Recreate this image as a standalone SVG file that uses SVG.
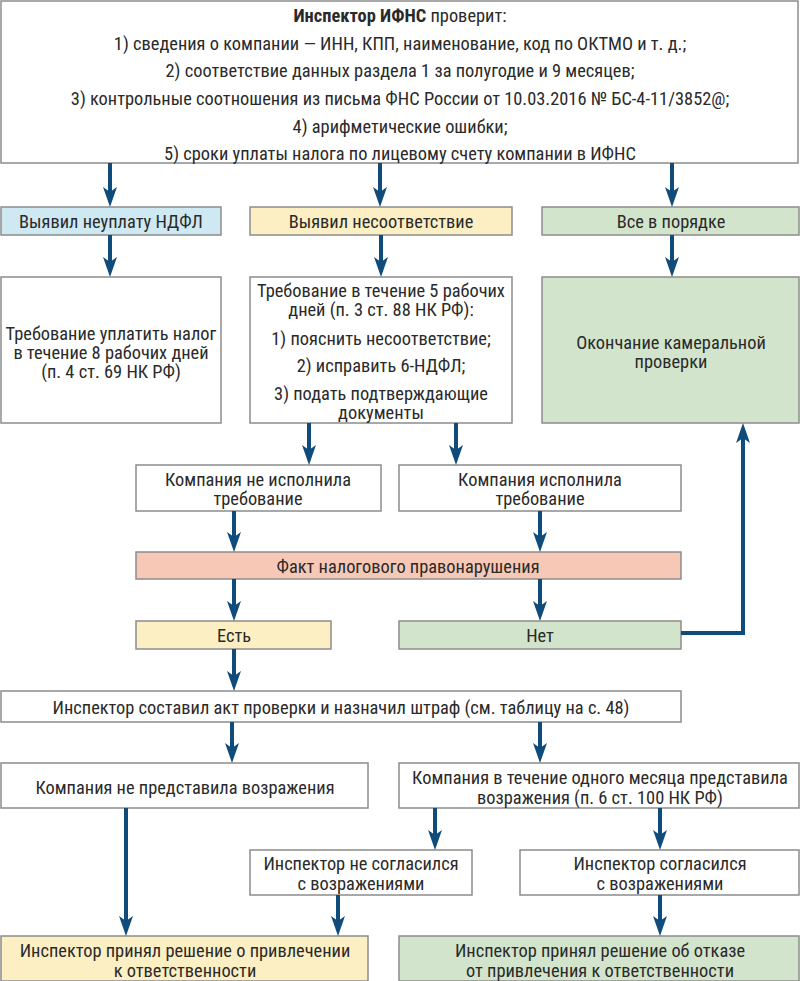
<svg xmlns="http://www.w3.org/2000/svg" width="800" height="981" viewBox="0 0 800 981">
<style>
.b{stroke:#8c8c8c;stroke-width:1.5}
.w{fill:#ffffff}
.bl{fill:#cfe9f3}
.y{fill:#fdefc4}
.g{fill:#d2e5cc}
.r{fill:#f7c8b5}
text{font-family:"Liberation Sans Narrow","Roboto Condensed","DejaVu Sans Condensed","Liberation Sans",sans-serif;font-size:18.4px;fill:#2a2a2a;text-anchor:middle;dominant-baseline:central}
.c{fill:none;stroke:#0f4c7c;stroke-width:4;marker-end:url(#ah)}
</style>
<defs>
<marker id="ah" markerUnits="userSpaceOnUse" markerWidth="22" markerHeight="16" viewBox="0 -8 22 16" refX="14" refY="0" orient="auto">
<path d="M0,-7 L20,0 L0,7 L5,0 Z" fill="#0f4c7c"/>
</marker>
</defs>
<rect width="800" height="981" fill="#ffffff"/>

<g id="n_top">
<rect class="b w" x="1" y="1" width="797" height="162"/>
<text x="400" y="15"><tspan font-weight="bold">Инспектор ИФНС</tspan> проверит:</text>
<text x="400" y="43">1) сведения о компании — ИНН, КПП, наименование, код по ОКТМО и т. д.;</text>
<text x="400" y="70">2) соответствие данных раздела 1 за полугодие и 9 месяцев;</text>
<text x="400" y="98">3) контрольные соотношения из письма ФНС России от 10.03.2016 № БС-4-11/3852@;</text>
<text x="400" y="126">4) арифметические ошибки;</text>
<text x="400" y="153">5) сроки уплаты налога по лицевому счету компании в ИФНС</text>
</g>

<g id="n_ndfl">
<rect class="b bl" x="1" y="207" width="220" height="28"/>
<text x="111" y="221">Выявил неуплату НДФЛ</text>
</g>
<g id="n_mismatch">
<rect class="b y" x="250" y="207" width="262" height="28"/>
<text x="381" y="221">Выявил несоответствие</text>
</g>
<g id="n_ok">
<rect class="b g" x="542" y="207" width="257" height="28"/>
<text x="671" y="221">Все в порядке</text>
</g>

<g id="n_pay">
<rect class="b w" x="1" y="277" width="220" height="146"/>
<text x="111" y="333">Требование уплатить налог</text>
<text x="111" y="352">в течение 8 рабочих дней</text>
<text x="111" y="371">(п. 4 ст. 69 НК РФ)</text>
</g>
<g id="n_req">
<rect class="b w" x="250" y="277" width="262" height="146"/>
<text x="381" y="290">Требование в течение 5 рабочих</text>
<text x="381" y="309">дней (п. 3 ст. 88 НК РФ):</text>
<text x="381" y="338">1) пояснить несоответствие;</text>
<text x="381" y="365">2) исправить 6-НДФЛ;</text>
<text x="381" y="393">3) подать подтверждающие</text>
<text x="381" y="412">документы</text>
</g>
<g id="n_end">
<rect class="b g" x="542" y="277" width="257" height="146"/>
<text x="671" y="342">Окончание камеральной</text>
<text x="671" y="361">проверки</text>
</g>

<g id="n_notdone">
<rect class="b w" x="136" y="465" width="245" height="46"/>
<text x="258" y="479">Компания не исполнила</text>
<text x="258" y="498">требование</text>
</g>
<g id="n_done">
<rect class="b w" x="399" y="465" width="282" height="46"/>
<text x="540" y="479">Компания исполнила</text>
<text x="540" y="498">требование</text>
</g>

<g id="n_fact">
<rect class="b r" x="136" y="552" width="545" height="27"/>
<text x="408" y="566">Факт налогового правонарушения</text>
</g>

<g id="n_yes">
<rect class="b y" x="136" y="621" width="195" height="28"/>
<text x="234" y="635">Есть</text>
</g>
<g id="n_no">
<rect class="b g" x="399" y="621" width="282" height="28"/>
<text x="540" y="635">Нет</text>
</g>

<g id="n_act">
<rect class="b w" x="1" y="691" width="680" height="31"/>
<text x="341" y="707">Инспектор составил акт проверки и назначил штраф (см. таблицу на с. 48)</text>
</g>

<g id="n_noobj">
<rect class="b w" x="1" y="763" width="367" height="45"/>
<text x="185" y="787">Компания не представила возражения</text>
</g>
<g id="n_obj">
<rect class="b w" x="399" y="763" width="400" height="45"/>
<text x="600" y="777">Компания в течение одного месяца представила</text>
<text x="600" y="797">возражения (п. 6 ст. 100 НК РФ)</text>
</g>

<g id="n_disagree">
<rect class="b w" x="250" y="850" width="222" height="45"/>
<text x="361" y="863">Инспектор не согласился</text>
<text x="361" y="883">с возражениями</text>
</g>
<g id="n_agree">
<rect class="b w" x="520" y="850" width="279" height="45"/>
<text x="660" y="863">Инспектор согласился</text>
<text x="660" y="883">с возражениями</text>
</g>

<g id="n_liable">
<rect class="b y" x="1" y="936" width="367" height="45"/>
<text x="185" y="950">Инспектор принял решение о привлечении</text>
<text x="185" y="970">к ответственности</text>
</g>
<g id="n_refuse">
<rect class="b g" x="399" y="936" width="400" height="45"/>
<text x="600" y="950">Инспектор принял решение об отказе</text>
<text x="600" y="970">от привлечения к ответственности</text>
</g>

<g id="connectors">
<path class="c" d="M110,163 V201"/>
<path class="c" d="M380,163 V201"/>
<path class="c" d="M672,163 V201"/>
<path class="c" d="M110,235 V271"/>
<path class="c" d="M381,235 V271"/>
<path class="c" d="M672,235 V271"/>
<path class="c" d="M309,423 V459"/>
<path class="c" d="M456,423 V459"/>
<path class="c" d="M234,511 V546"/>
<path class="c" d="M540,511 V546"/>
<path class="c" d="M234,579 V615"/>
<path class="c" d="M540,579 V615"/>
<path class="c" d="M681,633 H743 V429"/>
<path class="c" d="M234,649 V685"/>
<path class="c" d="M232,722 V757"/>
<path class="c" d="M540,722 V757"/>
<path class="c" d="M126,808 V930"/>
<path class="c" d="M435,808 V844"/>
<path class="c" d="M660,808 V844"/>
<path class="c" d="M338,895 V930"/>
<path class="c" d="M660,895 V930"/>
</g>
</svg>
